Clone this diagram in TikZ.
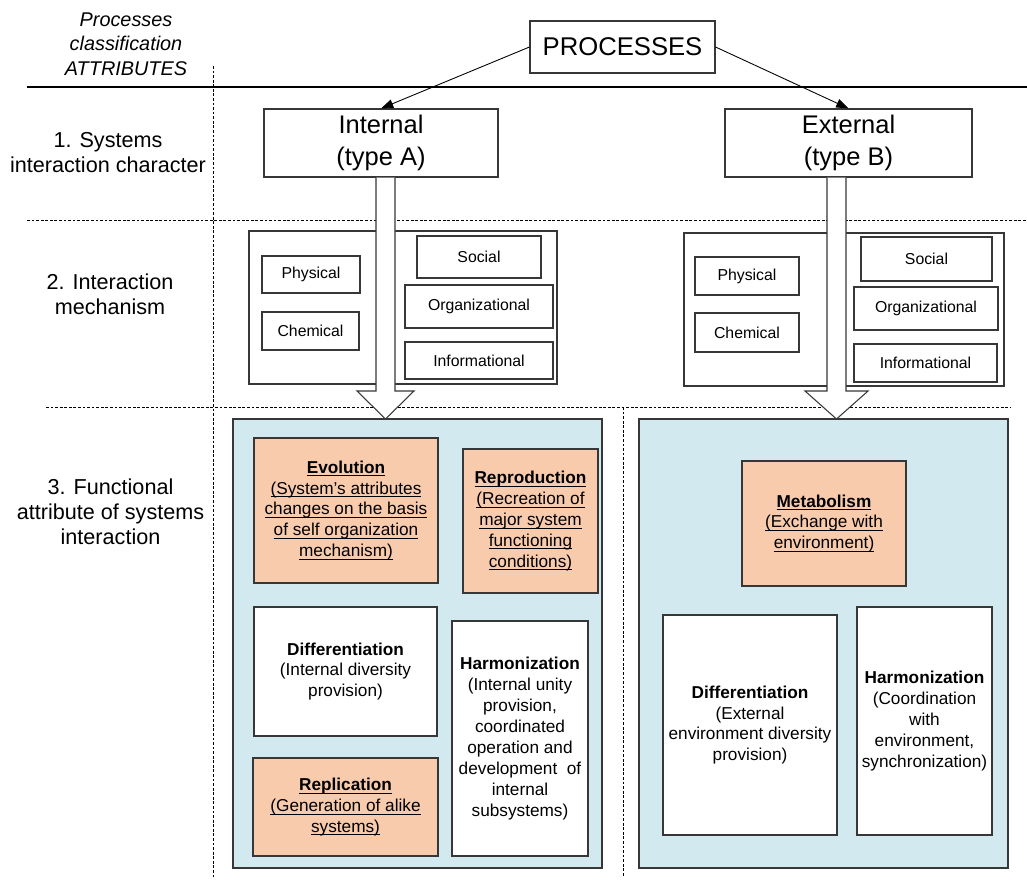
\documentclass[tikz,border=0pt]{standalone}
\usepackage{fontspec}
\setmainfont{Liberation Sans}
\usetikzlibrary{arrows.meta,fit,calc}

\definecolor{panelblue}{RGB}{210,234,239}
\definecolor{peach}{RGB}{248,203,173}
\definecolor{edge}{RGB}{55,55,55}

\newcommand{\fs}[2]{\fontsize{#1}{#2}\selectfont}
% underline that sits just below the baseline, whatever the descenders
\newcommand{\uln}[1]{{\setbox0\hbox{#1}\rlap{\rule[-1.7pt]{\wd0}{0.5pt}}\box0}}

\begin{document}
\begin{tikzpicture}[x=0.02cm, y=-0.02cm,
  boxline/.style={draw=edge, line width=0.6pt, inner sep=0pt},
  plainbox/.style={boxline, fill=white},
  panel/.style={boxline, fill=panelblue},
  keybox/.style={boxline, fill=peach},
  toptxt/.style={inner sep=0pt, align=center, font=\fs{14.5}{17.9}},
  smalltxt/.style={inner sep=0pt, font=\fs{9}{11}},
  txt/.style={inner sep=0pt, align=center, font=\fs{9.8}{11.9}},
  rowlabel/.style={inner sep=0pt, align=center, font=\fs{12.3}{14.2}},
  rule/.style={line width=0.6pt, draw=black},
  dashrule/.style={line width=0.5pt, draw=black, dash pattern=on 1.6pt off 1pt},
  blockarrow/.style={draw=edge, line width=0.6pt, fill=white, line join=miter},
  link/.style={draw=black, line width=0.5pt, -{Triangle[length=7pt,width=5pt]}}
]
\useasboundingbox (0,0) rectangle (1027,889);

% row separators
\draw[rule] (27,87) -- (1027,87);
\draw[dashrule] (27,220) -- (1027,220);
\draw[dashrule] (46,407) -- (1010,407);
\draw[dashrule] (213,66) -- (213,877);
\draw[dashrule] (623,407) -- (623,877);

% row labels
\node[inner sep=0pt, align=center, font=\fs{11.3}{13.9}\itshape] (lab0) at (126,44)
  {Processes\\classification\\ATTRIBUTES};
\node[rowlabel] (lab1) at (108,152.5) {1. Systems\\interaction character};
\node[rowlabel] (lab2) at (110,294.5) {2. Interaction\\mechanism};
\node[rowlabel] (lab3) at (110.5,511.5) {3. Functional\\attribute of systems\\interaction};

% root and the two process types
\node[plainbox, fit={(530,21) (715,73)}] (proc) {};
\node[toptxt, font=\fs{14.6}{18}] (proctext) at (proc.center) {PROCESSES};
\node[plainbox, fit={(264,109) (498,177)}] (intA) {};
\node[toptxt] (intAtext) at (intA.center) {Internal\\(type A)};
\node[plainbox, fit={(725,109) (972,177)}] (extB) {};
\node[toptxt] (extBtext) at (extB.center) {External\\(type B)};
\draw[link] (proc.west) -- (intA.north);
\draw[link] (proc.east) -- (extB.north);

% interaction mechanisms, type A
\node[plainbox, fit={(249,231) (386,384)}] (lcA) {};
\node[plainbox, fit={(385,231) (557,384)}] (rcA) {};
\node[plainbox, fit={(262,256) (360,293)}] (physA) {};
\node[plainbox, fit={(262,312) (359,350)}] (chemA) {};
\node[plainbox, fit={(417,236) (541,278)}] (socA) {};
\node[plainbox, fit={(405,285) (553,328)}] (orgA) {};
\node[plainbox, fit={(405,342) (553,379)}] (infA) {};
\node[smalltxt] (physAtext) at (physA.center) {Physical};
\node[smalltxt] (chemAtext) at (chemA.center) {Chemical};
\node[smalltxt] (socAtext) at (socA.center) {Social};
\node[smalltxt] (orgAtext) at (orgA.center) {Organizational};
\node[smalltxt] (infAtext) at (infA.center) {Informational};

% interaction mechanisms, type B
\node[plainbox, fit={(684,233) (837,386)}] (lcB) {};
\node[plainbox, fit={(836,233) (1004,386)}] (rcB) {};
\node[plainbox, fit={(695,257) (799,295)}] (physB) {};
\node[plainbox, fit={(695,313) (799,352)}] (chemB) {};
\node[plainbox, fit={(861,237) (992,281)}] (socB) {};
\node[plainbox, fit={(854,287) (998,330)}] (orgB) {};
\node[plainbox, fit={(854,344) (997,382)}] (infB) {};
\node[smalltxt] (physBtext) at (physB.center) {Physical};
\node[smalltxt] (chemBtext) at (chemB.center) {Chemical};
\node[smalltxt] (socBtext) at (socB.center) {Social};
\node[smalltxt] (orgBtext) at (orgB.center) {Organizational};
\node[smalltxt] (infBtext) at (infB.center) {Informational};

% functional attribute panels
\node[panel, fit={(233,419) (602,868)}] (panA) {};
\node[panel, fit={(639,419) (1008,868)}] (panB) {};

% block arrows from the process types down to their panels
\draw[blockarrow] ($(intA.south)+(-5,0)$) -- (376,391) -- (357,391) -- (385.5,419)
  -- (414,391) -- (395,391) -- ($(intA.south)+(14,0)$);
\draw[blockarrow] ($(extB.south)+(-21.5,0)$) -- (827,391) -- (805,391) -- (836.5,419)
  -- (868,391) -- (846,391) -- ($(extB.south)+(-2.5,0)$);

% type A functions
\node[keybox, fit={(254,438) (438,583)}] (evo) {};
\node[txt] (evotext) at (evo.center)
  {\uln{\textbf{Evolution}}\\\uln{(System’s attributes}\\\uln{changes on the basis}\\\uln{of self organization}\\\uln{mechanism)}};
\node[keybox, fit={(463,449) (598,593)}] (repro) {};
\node[txt] (reprotext) at (repro.center)
  {\uln{\textbf{Reproduction}}\\\uln{(Recreation of}\\\uln{major system}\\\uln{functioning}\\\uln{conditions)}};
\node[plainbox, fit={(254,607) (437,736)}] (diffA) {};
\node[txt] (diffAtext) at (diffA.center)
  {\textbf{Differentiation}\\(Internal diversity\\provision)};
\node[keybox, fit={(253,758) (438,856)}] (repl) {};
\node[txt] (repltext) at (repl.center)
  {\uln{\textbf{Replication}}\\\uln{(Generation of alike}\\\uln{systems)}};
\node[plainbox, fit={(452,621) (588,856)}] (harmA) {};
\node[txt] (harmAtext) at (harmA.center)
  {\textbf{Harmonization}\\(Internal unity\\provision,\\coordinated\\operation and\\development\ \ of\\internal\\subsystems)};

% type B functions
\node[keybox, fit={(742,461) (906,586)}] (metab) {};
\node[txt] (metabtext) at (metab.center)
  {\uln{\textbf{Metabolism}}\\\uln{(Exchange with}\\\uln{environment)}};
\node[plainbox, fit={(663,615) (837,835)}] (diffB) {};
\node[txt] (diffBtext) at (diffB.center)
  {\textbf{Differentiation}\\(External\\environment diversity\\provision)};
\node[plainbox, fit={(857,607) (992,835)}] (harmB) {};
\node[txt] (harmBtext) at (harmB.center)
  {\textbf{Harmonization}\\(Coordination\\with\\environment,\\synchronization)};

\end{tikzpicture}
\end{document}
